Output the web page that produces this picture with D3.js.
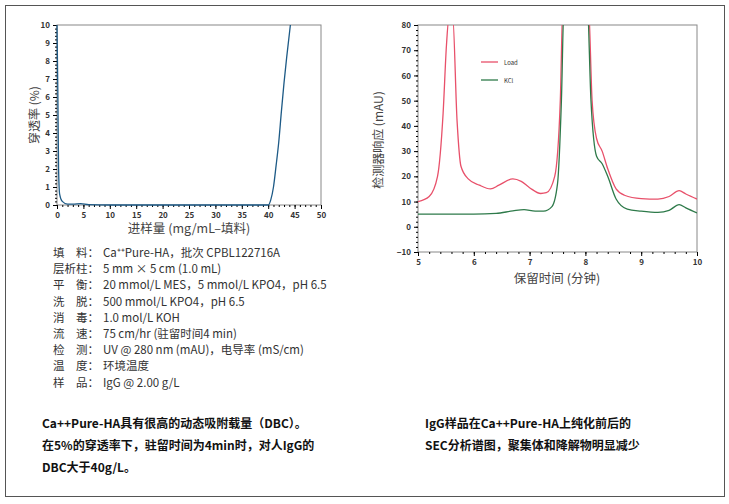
<!DOCTYPE html><html><head><meta charset="utf-8"><script src="https://cdn.jsdelivr.net/npm/d3@7"></script>
<style>body{margin:0;background:#fff}text{font-family:"Noto Sans CJK SC","Liberation Sans",sans-serif}</style></head><body><svg id="c" width="729" height="504"></svg><script>
const dbcX=[0,0.15,0.3,0.5,1,2,3,4.5,6,10,40,40.5,41,41.5,42,42.5,43,43.5,44.2];
const dbcY=[10,6.5,2,0.6,0.2,0.05,0.05,0.08,0.02,0,0,0.3,1,2.2,3.5,5.2,6.8,8.2,10];
const loadT=[5,5.2,5.35,5.45,5.51,5.56,5.62,5.7,5.77,5.9,6.1,6.3,6.45,6.7,6.85,7.0,7.2,7.3,7.45,7.55,7.6,8.05,8.12,8.2,8.3,8.4,8.55,8.7,9.0,9.3,9.5,9.68,9.8,10];
const loadV=[10,12,20,45,72,84,84,42,24,19,16.5,15,16.5,19,18,15.5,13.2,13.5,20,50,90,90,50,35,30,23,15,12.5,11.2,11,12,14.3,13,11];
const kclT=[5,6,6.4,6.7,6.9,7.1,7.25,7.4,7.5,7.57,7.62,8.03,8.1,8.2,8.3,8.4,8.55,8.75,9.0,9.3,9.5,9.68,9.8,10];
const kclV=[5,5,5.3,6.3,6.8,6.2,6.2,8,17,50,90,90,50,28,25,20,11,7,6.2,5.7,6.5,8.8,7.5,5.5];
const condLabels=["填　料：","层析柱：","平　衡：","洗　脱：","消　毒：","流　速：","检　测：","温　度：","样　品："];
const condVals=["Ca⁺⁺Pure-HA，批次 CPBL122716A","5 mm × 5 cm (1.0 mL)","20 mmol/L MES，5 mmol/L KPO4，pH 6.5","500 mmol/L KPO4，pH 6.5","1.0 mol/L KOH","75 cm/hr (驻留时间4 min)","UV @ 280 nm (mAU)，电导率 (mS/cm)","环境温度","IgG @ 2.00 g/L"];
const capL=["Ca++Pure-HA具有很高的动态吸附载量（DBC）。","在5%的穿透率下，驻留时间为4min时，对人IgG的","DBC大于40g/L。"];
const capR=["IgG样品在Ca++Pure-HA上纯化前后的","SEC分析谱图，聚集体和降解物明显减少"];
const svg=d3.select("#c");
svg.append("rect").attr("x",5.5).attr("y",5.5).attr("width",719).attr("height",491).attr("fill","none").attr("stroke","#555");
function axes(g,x,y,xt,yt,xm,ym){
 const w=x.range()[1]-x.range()[0],h=y.range()[0]-y.range()[1];
 g.append("rect").attr("x",x.range()[0]).attr("y",y.range()[1]).attr("width",w).attr("height",h).attr("fill","none").attr("stroke","#888");
 g.append("g").attr("transform",`translate(0,${y.range()[0]})`).call(d3.axisBottom(x).tickValues(xt).tickSize(4).tickFormat(d3.format("d")));
 g.append("g").attr("transform",`translate(0,${y.range()[0]})`).call(d3.axisBottom(x).tickValues(xm).tickSize(2).tickFormat(""));
 g.append("g").attr("transform",`translate(${x.range()[0]},0)`).call(d3.axisLeft(y).tickValues(yt).tickSize(4).tickFormat(d3.format("d")));
 g.append("g").attr("transform",`translate(${x.range()[0]},0)`).call(d3.axisLeft(y).tickValues(ym).tickSize(2).tickFormat(""));
 g.selectAll(".domain").remove();
 g.selectAll(".tick text").filter(function(){return this.textContent==="";}).remove();
 g.selectAll(".tick text").attr("font-size",8).attr("font-family","Liberation Sans").attr("font-weight","bold").attr("fill","#333");
}
const x1=d3.scaleLinear([0,50],[57,321]),y1=d3.scaleLinear([0,10],[205,25]);
const g1=svg.append("g");
axes(g1,x1,y1,d3.range(0,51,5),d3.range(0,11,1),d3.range(0,51,1),d3.range(0,10.01,0.2));
g1.append("path").datum(dbcX.map((d,i)=>[d,dbcY[i]])).attr("fill","none").attr("stroke","#1d5a86").attr("stroke-width",1.3)
 .attr("d",d3.line().x(d=>x1(d[0])).y(d=>y1(d[1])).curve(d3.curveMonotoneX));
g1.append("text").attr("x",189).attr("y",233).attr("text-anchor","middle").attr("font-size",12.5).attr("fill","#444").text("进样量 (mg/mL–填料)");
g1.append("text").attr("transform","translate(39,115) rotate(-90)").attr("text-anchor","middle").attr("font-size",12).attr("fill","#444").text("穿透率 (%)");
const x2=d3.scaleLinear([5,10],[418,697]),y2=d3.scaleLinear([-10,80],[252,25]);
const g2=svg.append("g");
svg.append("clipPath").attr("id","cp").append("rect").attr("x",418).attr("y",25).attr("width",279).attr("height",227);
axes(g2,x2,y2,d3.range(5,11,1),d3.range(-10,81,10),d3.range(5,10.01,0.2),d3.range(-10,80.1,2));
const ln=d3.line().x(d=>x2(d[0])).y(d=>y2(d[1])).curve(d3.curveMonotoneX);
g2.append("path").datum(loadT.map((d,i)=>[d,loadV[i]])).attr("clip-path","url(#cp)").attr("fill","none").attr("stroke","#e8506a").attr("stroke-width",1.3).attr("d",ln);
g2.append("path").datum(kclT.map((d,i)=>[d,kclV[i]])).attr("clip-path","url(#cp)").attr("fill","none").attr("stroke","#2e7a4a").attr("stroke-width",1.3).attr("d",ln);
[["Load","#e8506a",62],["KCl","#2e7a4a",80]].forEach(([t,c,yy])=>{
 g2.append("line").attr("x1",481).attr("x2",498).attr("y1",yy).attr("y2",yy).attr("stroke",c).attr("stroke-width",1.3);
 g2.append("text").attr("x",504).attr("y",yy+2.5).attr("font-size",6).attr("font-family","Liberation Sans").attr("fill","#333").text(t);});
g2.append("text").attr("x",557).attr("y",283).attr("text-anchor","middle").attr("font-size",12.5).attr("fill","#444").text("保留时间 (分钟)");
g2.append("text").attr("transform","translate(383,140) rotate(-90)").attr("text-anchor","middle").attr("font-size",12).attr("fill","#444").text("检测器响应 (mAU)");
condLabels.forEach((l,i)=>{const yy=257+i*16.2;
 svg.append("text").attr("x",53).attr("y",yy).attr("font-size",11.5).attr("fill","#333").text(l);
 svg.append("text").attr("x",103).attr("y",yy).attr("font-size",11.5).attr("fill","#333").text(condVals[i]);});
capL.forEach((t,i)=>svg.append("text").attr("x",42).attr("y",428+i*22).attr("font-size",12).attr("font-weight","bold").attr("fill","#111").text(t));
capR.forEach((t,i)=>svg.append("text").attr("x",425).attr("y",428+i*22).attr("font-size",12).attr("font-weight","bold").attr("fill","#111").text(t));
</script></body></html>
